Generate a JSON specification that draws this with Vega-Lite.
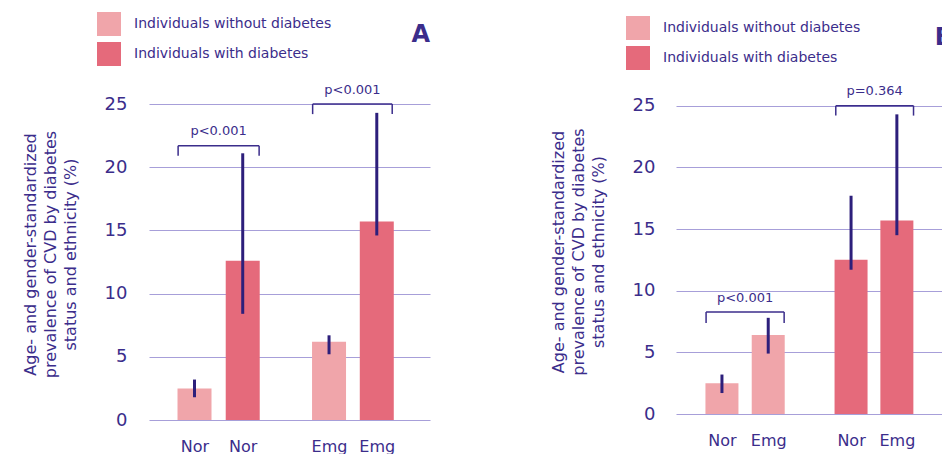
{
  "$schema": "https://vega.github.io/schema/vega-lite/v6.json",
  "background": "white",
  "padding": {"left": 22, "top": 12, "right": 0, "bottom": 0},
  "config": {
    "view": {"stroke": null},
    "font": "DejaVu Sans",
    "legend": {
      "orient": "none",
      "title": null,
      "symbolType": "square",
      "symbolSize": 576,
      "symbolStrokeWidth": 0,
      "symbolOpacity": 1,
      "labelFontSize": 14,
      "labelColor": "#3b2d8b",
      "labelOffset": 13,
      "labelLimit": 400,
      "rowPadding": 6,
      "padding": 0
    }
  },
  "datasets": {
    "barsA": [
      {"pos": 1, "eth": "Nor", "status": "Individuals without diabetes", "value": 2.5, "lo": 1.8, "hi": 3.2},
      {"pos": 2, "eth": "Nor", "status": "Individuals with diabetes", "value": 12.6, "lo": 8.4, "hi": 21.1},
      {"pos": 3.79, "eth": "Emg", "status": "Individuals without diabetes", "value": 6.2, "lo": 5.2, "hi": 6.7},
      {"pos": 4.78, "eth": "Emg", "status": "Individuals with diabetes", "value": 15.7, "lo": 14.6, "hi": 24.3}
    ],
    "barsB": [
      {"pos": 1, "eth": "Nor", "status": "Individuals without diabetes", "value": 2.5, "lo": 1.7, "hi": 3.2},
      {"pos": 2, "eth": "Emg", "status": "Individuals without diabetes", "value": 6.4, "lo": 4.9, "hi": 7.8},
      {"pos": 3.79, "eth": "Nor", "status": "Individuals with diabetes", "value": 12.5, "lo": 11.7, "hi": 17.7},
      {"pos": 4.78, "eth": "Emg", "status": "Individuals with diabetes", "value": 15.7, "lo": 14.5, "hi": 24.3}
    ],
    "bracketsA": [
      {"x1": 0.66, "x2": 2.34, "mid": 1.5, "top": 21.7, "bottom": 20.9, "label": "p<0.001"},
      {"x1": 3.45, "x2": 5.1, "mid": 4.275, "top": 25, "bottom": 24.2, "label": "p<0.001"}
    ],
    "bracketsB": [
      {"x1": 0.657, "x2": 2.344, "mid": 1.5, "top": 8.27, "bottom": 7.38, "label": "p<0.001"},
      {"x1": 3.46, "x2": 5.14, "mid": 4.3, "top": 25, "bottom": 24.2, "label": "p=0.364"}
    ]
  },
  "bounds": "flush",
  "spacing": 246,
  "resolve": {
    "scale": {"color": "independent", "x": "independent", "y": "independent"},
    "legend": {"color": "independent"}
  },
  "hconcat": [
    {
      "width": 281,
      "height": 316,
      "title": {"text": "A", "anchor": "end", "frame": "group", "fontSize": 24, "fontWeight": "bold", "color": "#3b2d8b", "offset": 0, "dy": 35},
      "layer": [
        {
          "data": {"name": "barsA"},
          "mark": {"type": "bar", "size": 34},
          "encoding": {
            "x": {
              "field": "pos", "type": "quantitative",
              "scale": {"domain": [0.16, 5.78], "nice": false, "zero": false},
              "axis": {"values": [1, 2, 3.79, 4.78], "labelExpr": "datum.value < 3 ? 'Nor' : 'Emg'", "domain": false, "ticks": false, "grid": false, "title": null, "labelFontSize": 16, "labelColor": "#3b2d8b", "labelPadding": 18, "labelFlush": false}
            },
            "y": {
              "field": "value", "type": "quantitative",
              "scale": {"domain": [0, 25], "nice": false},
              "axis": {
                "values": [0, 5, 10, 15, 20, 25], "domain": false, "ticks": false, "grid": true,
                "gridColor": "#a79fd9", "gridWidth": 1.2,
                "labelFontSize": 18, "labelColor": "#3b2d8b", "labelPadding": 22,
                "title": ["Age- and gender-standardized", "prevalence of CVD by diabetes", "status and ethnicity (%)"],
                "titleFontSize": 16, "titleFontWeight": "normal", "titleColor": "#3b2d8b", "titleLineHeight": 20, "titlePadding": 26, "titleY": 150
              }
            },
            "color": {
              "field": "status", "type": "nominal",
              "scale": {"domain": ["Individuals without diabetes", "Individuals with diabetes"], "range": ["#f0a5aa", "#e56a7b"]},
              "legend": {"legendX": -52, "legendY": -92}
            }
          }
        },
        {
          "data": {"name": "barsA"},
          "mark": {"type": "rule", "strokeWidth": 3, "color": "#2d1f7b"},
          "encoding": {
            "x": {"field": "pos", "type": "quantitative"},
            "y": {"field": "lo", "type": "quantitative"},
            "y2": {"field": "hi"}
          }
        },
        {
          "data": {"name": "bracketsA"},
          "mark": {"type": "rule", "strokeWidth": 1.5, "color": "#3b2d8b"},
          "encoding": {
            "x": {"field": "x1", "type": "quantitative"},
            "x2": {"field": "x2"},
            "y": {"field": "top", "type": "quantitative"}
          }
        },
        {
          "data": {"name": "bracketsA"},
          "transform": [{"fold": ["x1", "x2"], "as": ["side", "xl"]}],
          "mark": {"type": "rule", "strokeWidth": 1.5, "color": "#3b2d8b"},
          "encoding": {
            "x": {"field": "xl", "type": "quantitative"},
            "y": {"field": "top", "type": "quantitative"},
            "y2": {"field": "bottom"}
          }
        },
        {
          "data": {"name": "bracketsA"},
          "mark": {"type": "text", "fontSize": 13, "color": "#3b2d8b", "dy": -14.5, "baseline": "middle"},
          "encoding": {
            "x": {"field": "mid", "type": "quantitative"},
            "y": {"field": "top", "type": "quantitative"},
            "text": {"field": "label"}
          }
        }
      ]
    },
    {
      "width": 277,
      "height": 310,
      "title": {"text": "B", "anchor": "end", "frame": "group", "fontSize": 24, "fontWeight": "bold", "color": "#3b2d8b", "offset": 0, "dy": 34},
      "layer": [
        {
          "data": {"name": "barsB"},
          "mark": {"type": "bar", "size": 33},
          "encoding": {
            "x": {
              "field": "pos", "type": "quantitative",
              "scale": {"domain": [0.115, 5.885], "nice": false, "zero": false},
              "axis": {"values": [1, 2, 3.79, 4.78], "labelExpr": "datum.value == 1 || datum.value == 3.79 ? 'Nor' : 'Emg'", "domain": false, "ticks": false, "grid": false, "title": null, "labelFontSize": 16, "labelColor": "#3b2d8b", "labelPadding": 18, "labelFlush": false}
            },
            "y": {
              "field": "value", "type": "quantitative",
              "scale": {"domain": [0, 25.14], "nice": false},
              "axis": {
                "values": [0, 5, 10, 15, 20, 25], "domain": false, "ticks": false, "grid": true,
                "gridColor": "#a79fd9", "gridWidth": 1.2,
                "labelFontSize": 18, "labelColor": "#3b2d8b", "labelPadding": 21,
                "title": ["Age- and gender-standardized", "prevalence of CVD by diabetes", "status and ethnicity (%)"],
                "titleFontSize": 16, "titleFontWeight": "normal", "titleColor": "#3b2d8b", "titleLineHeight": 20, "titlePadding": 26, "titleY": 147.5
              }
            },
            "color": {
              "field": "status", "type": "nominal",
              "scale": {"domain": ["Individuals without diabetes", "Individuals with diabetes"], "range": ["#f0a5aa", "#e56a7b"]},
              "legend": {"legendX": -50, "legendY": -88}
            }
          }
        },
        {
          "data": {"name": "barsB"},
          "mark": {"type": "rule", "strokeWidth": 3, "color": "#2d1f7b"},
          "encoding": {
            "x": {"field": "pos", "type": "quantitative"},
            "y": {"field": "lo", "type": "quantitative"},
            "y2": {"field": "hi"}
          }
        },
        {
          "data": {"name": "bracketsB"},
          "mark": {"type": "rule", "strokeWidth": 1.5, "color": "#3b2d8b"},
          "encoding": {
            "x": {"field": "x1", "type": "quantitative"},
            "x2": {"field": "x2"},
            "y": {"field": "top", "type": "quantitative"}
          }
        },
        {
          "data": {"name": "bracketsB"},
          "transform": [{"fold": ["x1", "x2"], "as": ["side", "xl"]}],
          "mark": {"type": "rule", "strokeWidth": 1.5, "color": "#3b2d8b"},
          "encoding": {
            "x": {"field": "xl", "type": "quantitative"},
            "y": {"field": "top", "type": "quantitative"},
            "y2": {"field": "bottom"}
          }
        },
        {
          "data": {"name": "bracketsB"},
          "mark": {"type": "text", "fontSize": 13, "color": "#3b2d8b", "dy": -14.5, "baseline": "middle"},
          "encoding": {
            "x": {"field": "mid", "type": "quantitative"},
            "y": {"field": "top", "type": "quantitative"},
            "text": {"field": "label"}
          }
        }
      ]
    }
  ]
}
